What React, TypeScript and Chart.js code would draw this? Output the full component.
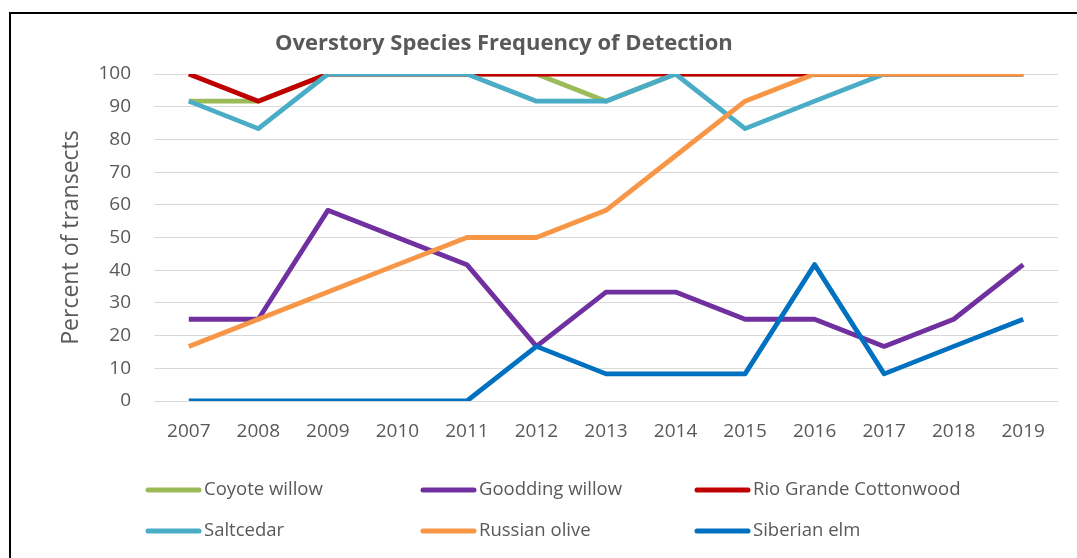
import React, { useEffect, useRef } from "react";
import { Chart, registerables } from "chart.js";

Chart.register(...registerables);

const years = ["2007", "2008", "2009", "2010", "2011", "2012", "2013", "2014", "2015", "2016", "2017", "2018", "2019"];

const coyoteWillow = [91.7, 91.7, 100, 100, 100, 100, 91.7, 100, 100, 100, 100, 100, 100];
const gooddingWillow = [25, 25, 58.3, 50, 41.7, 16.7, 33.3, 33.3, 25, 25, 16.7, 25, 41.7];
const rioGrandeCottonwood = [100, 91.7, 100, 100, 100, 100, 100, 100, 100, 100, 100, 100, 100];
const saltcedar = [91.7, 83.3, 100, 100, 100, 91.7, 91.7, 100, 83.3, 91.7, 100, 100, 100];
const russianOlive = [16.7, 25, 33.3, 41.7, 50, 50, 58.3, 75, 91.7, 100, 100, 100, 100];
const siberianElm = [0, 0, 0, 0, 0, 16.7, 8.3, 8.3, 8.3, 41.7, 8.3, 16.7, 25];

const seriesNames = ["Coyote willow", "Goodding willow", "Rio Grande Cottonwood", "Saltcedar", "Russian olive", "Siberian elm"];
const seriesValues = [coyoteWillow, gooddingWillow, rioGrandeCottonwood, saltcedar, russianOlive, siberianElm];
const seriesColors = ["#9BBB59", "#7030A0", "#C00000", "#4BACC6", "#F79646", "#0070C0"];

const chartTitle = "Overstory Species Frequency of Detection";
const yAxisTitle = "Percent of transects";

const TEXT_COLOR = "#595959";
const FONT = "'Open Sans', 'Noto Sans', sans-serif";

const overlayPlugin = {
  id: "overlay",
  afterDraw(chart: any) {
    const ctx = chart.ctx as CanvasRenderingContext2D;
    ctx.save();
    ctx.fillStyle = TEXT_COLOR;
    ctx.textBaseline = "middle";
    ctx.textAlign = "left";
    ctx.font = `bold 22px ${FONT}`;
    ctx.fillText(chartTitle, 275, 44);

    const cols = [145, 420, 694];
    const rows = [490, 531];
    ctx.font = `18.5px ${FONT}`;
    chart.data.datasets.forEach((ds: any, i: number) => {
      const x = cols[i % 3];
      const y = rows[Math.floor(i / 3)];
      ctx.strokeStyle = ds.borderColor;
      ctx.lineWidth = 5;
      ctx.lineCap = "round";
      ctx.beginPath();
      ctx.moveTo(x + 3, y);
      ctx.lineTo(x + 54, y);
      ctx.stroke();
      ctx.fillText(ds.label, x + 59, y);
    });
    ctx.restore();
  },
};

export default function App() {
  const canvasRef = useRef<HTMLCanvasElement | null>(null);

  useEffect(() => {
    const canvas = canvasRef.current;
    if (!canvas) return;
    const chart = new Chart(canvas, {
      type: "line",
      data: {
        labels: years,
        datasets: seriesNames.map((name, i) => ({
          label: name,
          data: seriesValues[i],
          borderColor: seriesColors[i],
          backgroundColor: seriesColors[i],
          borderWidth: 4.8,
          pointRadius: 0,
          pointHoverRadius: 0,
          tension: 0,
          borderJoinStyle: "round" as const,
          borderCapStyle: "butt" as const,
          order: seriesNames.length - i,
          fill: false,
        })),
      },
      options: {
        responsive: false,
        animation: false,
        events: [],
        layout: { padding: { top: 74, right: 19, bottom: 0, left: 0 } },
        plugins: {
          legend: { display: false },
          title: { display: false },
          tooltip: { enabled: false },
        },
        scales: {
          x: {
            type: "category",
            offset: true,
            grid: { display: false, drawTicks: false },
            border: { display: false },
            ticks: {
              color: TEXT_COLOR,
              font: { family: FONT, size: 19 },
              padding: 19,
              maxRotation: 0,
              autoSkip: false,
            },
            afterFit: (s: any) => {
              s.height = 157;
            },
          },
          y: {
            min: 0,
            max: 100,
            grid: { color: "#D9D9D9", lineWidth: 1, drawTicks: false },
            border: { display: false },
            ticks: {
              stepSize: 10,
              color: TEXT_COLOR,
              font: { family: FONT, size: 19 },
              padding: 23,
            },
            title: {
              display: true,
              text: yAxisTitle,
              color: TEXT_COLOR,
              font: { family: FONT, size: 23 },
              padding: { top: 58, bottom: 0 },
            },
            afterFit: (s: any) => {
              s.width = 154;
            },
          },
        },
      },
      plugins: [overlayPlugin],
    });
    return () => chart.destroy();
  }, []);

  return (
    <div style={{ position: "absolute", left: 0, top: 0, width: 1077, height: 558, overflow: "hidden", background: "#fff" }}>
      <div
        style={{
          position: "absolute",
          left: 9,
          top: 12,
          width: 1100,
          height: 600,
          borderTop: "2.5px solid #000",
          borderLeft: "2.5px solid #000",
          boxSizing: "border-box",
        }}
      />
      <canvas ref={canvasRef} width={1077} height={558} style={{ position: "absolute", left: 0, top: 0, display: "block" }} />
    </div>
  );
}
